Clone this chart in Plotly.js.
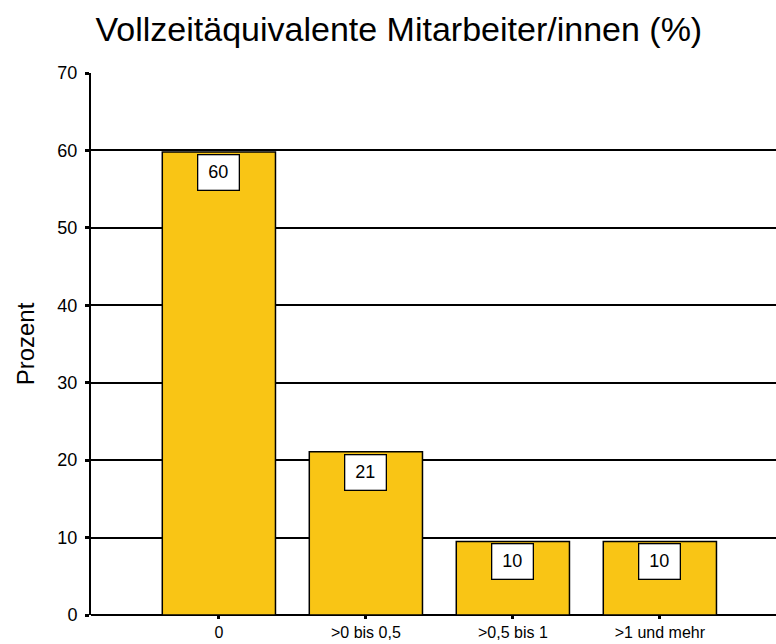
<!DOCTYPE html>
<html><head><meta charset="utf-8">
<script src="https://cdn.plot.ly/plotly-3.0.1.min.js"></script>
<style>html,body{margin:0;padding:0;background:#fff}#chart{width:776px;height:644px}</style>
</head><body><div id="chart"></div>
<script>
const categories = ["0", ">0 bis 0,5", ">0,5 bis 1", ">1 und mehr"];
const values = [59.8, 21.1, 9.5, 9.5];
const labels = ["60", "21", "10", "10"];
const yTicks = [0, 10, 20, 30, 40, 50, 60, 70];

const annotations = categories.map((c, i) => ({
  x: c, y: values[i], xref: 'x', yref: 'y',
  text: labels[i], showarrow: false, yanchor: 'top', yshift: -2,
  bgcolor: '#ffffff', bordercolor: '#000000', borderwidth: 1.3, borderpad: 2,
  width: 36, height: 30,
  font: {family: 'Liberation Sans, Arial, sans-serif', size: 18, color: '#000'}
}));

Plotly.newPlot('chart', [{
  type: 'bar', x: categories, y: values, width: 0.77,
  marker: {color: '#F9C515', line: {color: '#000000', width: 1.5}},
  hoverinfo: 'none'
}], {
  width: 776, height: 644,
  margin: {l: 91, r: 0, t: 73, b: 29},
  paper_bgcolor: '#fff', plot_bgcolor: '#fff',
  showlegend: false,
  font: {family: 'Liberation Sans, Arial, sans-serif', color: '#000'},
  title: {text: 'Vollzeitäquivalente Mitarbeiter/innen (%)', x: 0.514, xanchor: 'center', y: 0.955, yanchor: 'middle',
          font: {size: 34, color: '#000'}},
  xaxis: {
    type: 'category', range: [-0.87, 3.79], showgrid: false, zeroline: false,
    showline: false, ticks: 'outside', ticklen: 3, tickwidth: 3, tickcolor: '#000',
    tickfont: {size: 16}, ticklabelstandoff: 0, fixedrange: true
  },
  yaxis: {
    range: [0, 70], tickvals: yTicks, showgrid: true, gridcolor: '#000', gridwidth: 2,
    zeroline: true, zerolinecolor: '#000', zerolinewidth: 2,
    showline: true, linecolor: '#000', linewidth: 2,
    ticks: 'outside', ticklen: 4, tickwidth: 3, tickcolor: '#000',
    tickfont: {size: 18}, ticklabelstandoff: 4,
    title: {text: 'Prozent', font: {size: 24}, standoff: 16}, fixedrange: true
  },
  annotations: annotations
}, {displayModeBar: false, staticPlot: true});
</script></body></html>
